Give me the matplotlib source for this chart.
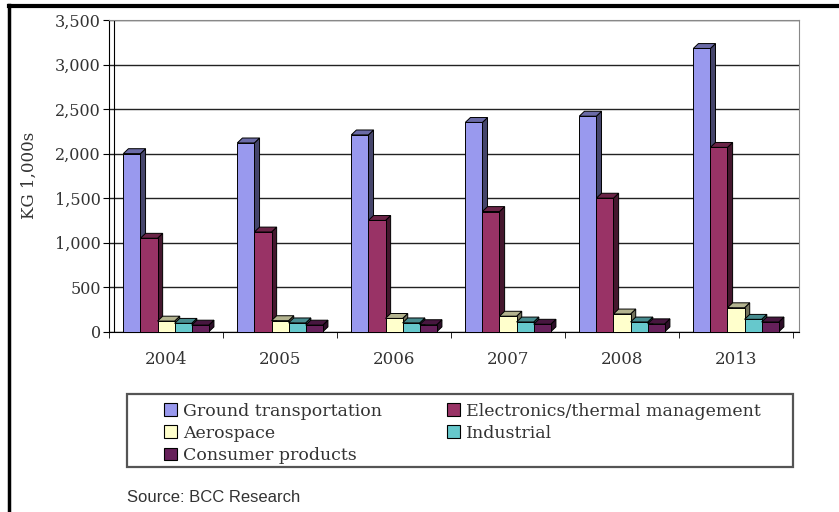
import numpy as np
import matplotlib
matplotlib.use("Agg")
import matplotlib.pyplot as plt
from matplotlib.patches import Polygon, Patch, Rectangle
from matplotlib.lines import Line2D
from matplotlib.colors import to_rgb

years = ["2004", "2005", "2006", "2007", "2008", "2013"]
series = ["Ground transportation", "Electronics/thermal management",
          "Aerospace", "Industrial", "Consumer products"]
ground = [2000, 2120, 2210, 2350, 2420, 3180]
electronics = [1050, 1120, 1250, 1350, 1500, 2070]
aerospace = [120, 125, 150, 175, 200, 270]
industrial = [95, 100, 100, 110, 110, 140]
consumer = [75, 75, 80, 85, 90, 110]
colors = ["#9999ee", "#993366", "#ffffcc", "#66c8cc", "#66205a"]

values = [ground, electronics, aerospace, industrial, consumer]

plt.rcParams["font.family"] = ["DejaVu Serif"]
fig = plt.figure(figsize=(8.39, 5.12), dpi=100)
ax = fig.add_axes([0.130, 0.352, 0.822, 0.609])

def shade(c, f):
    r, g, b = to_rgb(c)
    return (r * f, g * f, b * f)

x = np.arange(len(years))
w = 0.15
dx, dy = 0.045, 55  # fake depth
z = 3
for i, (vals, c) in enumerate(zip(values, colors)):
    xs = x - 2 * w + i * w
    for xi, h in zip(xs, vals):
        l, r = xi - w / 2, xi + w / 2
        side = Polygon([(r, 0), (r + dx, dy), (r + dx, h + dy), (r, h)],
                       closed=True, fc=shade(c, 0.45), ec="black", lw=0.7, zorder=z)
        top = Polygon([(l, h), (l + dx, h + dy), (r + dx, h + dy), (r, h)],
                      closed=True, fc=shade(c, 0.7), ec="black", lw=0.7, zorder=z)
        ax.add_patch(side)
        ax.add_patch(top)
        ax.bar(xi, h, width=w, color=c, edgecolor="black", lw=0.7, zorder=z + 0.5)
        z += 1

ax.set_xlim(-0.5, 5.55)
ax.set_ylim(0, 3500)
ax.set_yticks(np.arange(0, 3501, 500))
ax.set_yticklabels([f"{v:,}" for v in range(0, 3501, 500)], fontsize=11.5, color="#333333")
ax.yaxis.grid(True, color="#222222", lw=1.0)
ax.set_axisbelow(True)
ax.set_xticks(x)
ax.set_xticklabels(years, fontsize=12, color="#333333")
ax.tick_params(axis="x", length=0, pad=14)
ax.set_xticks(np.arange(-0.5, 6, 1), minor=True)
ax.tick_params(axis="x", which="minor", length=4, direction="out")
ax.tick_params(axis="y", length=4, pad=2)
ax.set_ylabel("KG 1,000s", fontsize=12, color="#333333", labelpad=12)
for s in ["top", "right"]:
    ax.spines[s].set_color("#888888")
ax.spines["left"].set_color("black")
ax.spines["bottom"].set_color("black")
# back-wall edge beside the left axis
ax.axvline(-0.5 + dx, color="black", lw=0.8, zorder=2)

handles = [Patch(fc=c, ec="black", lw=0.8) for c in colors]
leg_kw = dict(loc="upper left", fontsize=12.5, frameon=False, handlelength=0.75,
              handleheight=0.75, handletextpad=0.35, labelspacing=0.3, borderpad=0)
leg1 = fig.legend([handles[k] for k in (0, 2, 4)], [series[k] for k in (0, 2, 4)],
                  bbox_to_anchor=(155 / 839, 1 - 394 / 512), **leg_kw)
leg2 = fig.legend([handles[k] for k in (1, 3)], [series[k] for k in (1, 3)],
                  bbox_to_anchor=(438 / 839, 1 - 394 / 512), **leg_kw)
for lg in (leg1, leg2):
    for t in lg.get_texts():
        t.set_color("#333333")
fig.add_artist(Rectangle((127 / 839, 1 - 467 / 512), 666 / 839, 73 / 512,
                         transform=fig.transFigure, fill=False, ec="#555555", lw=1.6))

fig.text(127 / 839, 1 - 498 / 512, "Source: BCC Research", fontsize=12,
         family=["Liberation Sans"], color="#333333", va="center")

# outer frame (left and top only)
fig.add_artist(Line2D([0.0113, 0.0113], [0, 0.99], transform=fig.transFigure, color="black", lw=2.5))
fig.add_artist(Line2D([0.0113, 1.0], [0.988, 0.988], transform=fig.transFigure, color="black", lw=3))

fig.savefig("out.png", dpi=100)
